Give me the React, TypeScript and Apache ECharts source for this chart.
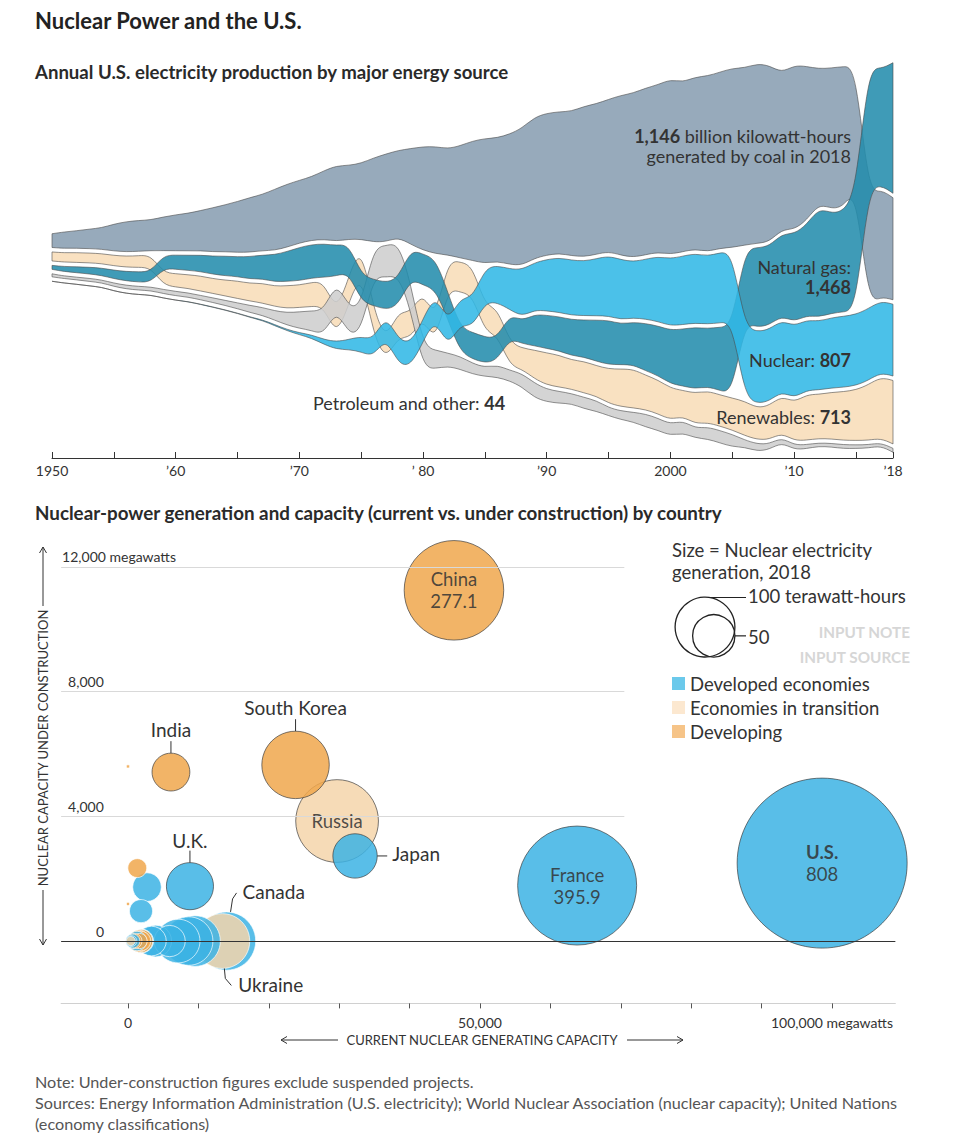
import React, { useEffect, useRef } from "react";
import * as echarts from "echarts";

const FONT = "Lato, 'Open Sans', sans-serif";

// ---------------- Top chart: U.S. electricity production (billion kWh) ----------------
const years: number[] = [];
for (let y = 1950; y <= 2018; y++) years.push(y);

const sourceNames = ["Coal", "Natural gas", "Nuclear", "Renewables", "Petroleum and other"];
const coal = [
  154.5, 185.2, 195.4, 218.8, 239.1, 301.4, 338.5, 346.4, 344.4, 378.4,
  403.1, 421.9, 450.2, 493.9, 526.2, 570.9, 613.5, 630.5, 684.9, 706.0,
  704.4, 713.1, 771.1, 847.7, 828.4, 852.8, 944.4, 985.2, 975.7, 1075.0,
  1161.6, 1203.2, 1192.0, 1259.4, 1341.7, 1402.1, 1385.8, 1463.8, 1540.7, 1583.8,
  1594.0, 1590.6, 1621.2, 1690.1, 1690.7, 1709.4, 1795.2, 1845.0, 1873.5, 1881.1,
  1966.3, 1904.0, 1933.1, 1973.7, 1978.3, 2012.9, 1990.5, 2016.5, 1985.8, 1755.9,
  1847.3, 1733.4, 1514.0, 1581.1, 1581.7, 1352.4, 1239.1, 1205.8, 1146.0,
];
const naturalGas = [
  44.6, 56.6, 66.4, 74.8, 83.0, 95.3, 104.3, 114.3, 118.1, 148.2,
  158.0, 169.3, 184.3, 201.6, 220.1, 221.6, 251.2, 264.8, 304.4, 333.3,
  372.9, 374.0, 375.7, 340.9, 320.1, 299.8, 294.6, 305.5, 305.4, 329.5,
  346.2, 345.8, 305.3, 274.1, 297.4, 291.9, 248.5, 272.6, 252.8, 352.6,
  372.8, 381.6, 404.1, 414.9, 460.2, 496.1, 455.1, 479.4, 531.3, 556.4,
  601.0, 639.1, 691.0, 649.9, 710.1, 761.0, 816.4, 896.6, 883.0, 921.0,
  987.7, 1013.7, 1225.9, 1124.8, 1126.6, 1333.5, 1378.3, 1296.4, 1468.0,
];
const nuclear = [
  0, 0, 0, 0, 0, 0, 0, 0, 0.2, 0.2,
  0.5, 1.7, 2.3, 3.2, 3.3, 3.7, 5.5, 7.7, 12.5, 13.9,
  21.8, 38.1, 54.1, 83.5, 114.0, 172.5, 191.1, 250.9, 276.4, 255.2,
  251.1, 272.7, 282.8, 293.7, 327.6, 383.7, 414.0, 455.3, 527.0, 529.4,
  576.9, 612.6, 618.8, 610.3, 640.4, 673.4, 674.7, 628.6, 673.7, 728.3,
  753.9, 768.8, 780.1, 763.7, 788.5, 782.0, 787.2, 806.4, 806.2, 798.9,
  807.0, 790.2, 769.3, 789.0, 797.2, 797.2, 805.7, 805.0, 807.1,
];
const renewables = [
  100.9, 104.4, 109.7, 109.6, 112.0, 116.2, 122.0, 130.5, 140.3, 138.6,
  149.4, 152.6, 168.7, 166.1, 177.1, 196.0, 197.3, 222.5, 225.4, 253.8,
  250.9, 269.9, 275.8, 275.4, 305.7, 303.2, 287.7, 224.7, 284.8, 284.3,
  284.7, 266.4, 316.1, 338.8, 331.4, 293.9, 304.3, 261.9, 235.4, 320.0,
  357.2, 357.8, 326.0, 354.3, 341.5, 384.8, 420.6, 433.6, 385.8, 380.5,
  356.5, 288.6, 343.6, 355.3, 351.5, 357.7, 385.8, 352.7, 380.9, 417.7,
  427.4, 513.0, 494.6, 522.5, 546.0, 567.5, 623.7, 687.0, 713.0,
];
const petroleumOther = [
  33.7, 29.0, 29.6, 34.5, 31.5, 37.1, 40.4, 41.0, 42.0, 46.0,
  48.0, 48.0, 48.5, 52.0, 57.0, 64.8, 78.9, 89.3, 104.3, 138.3,
  184.2, 220.2, 274.3, 314.3, 300.9, 289.1, 320.0, 358.2, 365.1, 303.5,
  246.0, 206.4, 146.8, 144.5, 119.8, 100.2, 136.6, 118.5, 148.9, 164.5,
  140, 133, 113, 127, 120, 90, 97, 108, 145, 135,
  128, 138, 108, 135, 137, 138, 81, 82, 62, 55,
  51, 45, 37, 41, 43, 40, 37, 35, 44,
];
const sourceValues = [coal, naturalGas, nuclear, renewables, petroleumOther];
const sourceFills = [
  "rgba(136,157,177,0.87)",
  "rgba(34,140,172,0.87)",
  "rgba(48,184,230,0.87)",
  "rgba(248,220,184,0.87)",
  "rgba(206,206,206,0.87)",
];
const drawOrder = [0, 3, 4, 1, 2];

const tickYears = [1950, 1955, 1960, 1965, 1970, 1975, 1980, 1985, 1990, 1995, 2000, 2005, 2010, 2015, 2018];
const labelYears = [1950, 1960, 1970, 1980, 1990, 2000, 2010, 2018];
const yearLabels = ["1950", "\u201960", "\u201970", "\u2019 80", "\u201990", "2000", "\u201910", "\u201918"];

const BAND_GAP = 50; // billion kWh of white space between ribbons

// ---------------- Bottom chart: nuclear power by country ----------------
const countries = [
  "U.S.", "France", "China", "Russia", "South Korea", "Canada", "Ukraine", "Germany",
  "Sweden", "U.K.", "Japan", "Spain", "India", "Czech Republic", "Belgium", "Switzerland",
  "Finland", "Bulgaria", "Hungary", "Slovakia", "Brazil", "Mexico", "South Africa", "Romania",
  "Pakistan", "Argentina", "Iran", "Slovenia", "Netherlands", "Armenia", "U.A.E.", "Turkey",
];
const capacityMW = [
  98600, 63800, 46300, 29700, 23800, 14000, 13400, 9515,
  8613, 8800, 32250, 7121, 6100, 3932, 5918, 3333,
  2700, 1966, 1902, 1850, 1884, 1552, 1860, 1300,
  1320, 1641, 915, 688, 482, 400, 0, 0,
];
const underConstructionMW = [
  2500, 1780, 11250, 3850, 5650, 0, 0, 0,
  0, 1760, 2730, 0, 5420, 0, 0, 0,
  1730, 0, 0, 960, 0, 0, 0, 0,
  2340, 0, 0, 0, 0, 0, 5600, 1190,
];
const generationTWh = [
  808, 395.9, 277.1, 191.3, 127.1, 95.0, 84.0, 71.9,
  65.9, 62.0, 55.0, 53.4, 40.0, 28.3, 27.3, 24.5,
  23.0, 15.4, 14.9, 15.0, 14.8, 13.2, 10.6, 10.5,
  10.0, 6.5, 6.3, 5.5, 3.3, 2.3, 0.3, 0.3,
];
const economy = [
  "D", "D", "G", "T", "G", "D", "T", "D",
  "D", "D", "D", "D", "G", "D", "D", "D",
  "D", "D", "D", "D", "G", "G", "G", "D",
  "G", "G", "G", "D", "D", "T", "G", "G",
];
const economyNames: Record<string, string> = { D: "Developed economies", T: "Economies in transition", G: "Developing" };
const economyLegendColors: Record<string, string> = { D: "#46bbe6", T: "#fbe2c4", G: "#f4b56a" };
const economyFills: Record<string, string> = { D: "#3cb3e4", T: "#f5d5aa", G: "#f0a74c" };
const outlined = ["U.S.", "France", "China", "Russia", "South Korea", "Japan", "India", "U.K."];
const insideLabels: Record<string, string> = {
  "U.S.": "{b|U.S.}\n{r|808}",
  France: "{r|France}\n{r|395.9}",
  China: "{r|China}\n{r|277.1}",
  Russia: "{r|Russia}",
};
const capTicks = [0, 10000, 20000, 30000, 40000, 50000, 60000, 70000, 80000, 90000, 100000];
const capLabelValues = [0, 50000, 100000];
const capLabels = ["0", "50,000", "100,000 megawatts"];
const ucLabelValues = [0, 4000, 8000, 12000];
const ucLabels = ["{z|0}", "{b|4,000}", "{b|8,000}", "{a|12,000 megawatts}"];
const ucGridValues = [4000, 8000, 12000];
const SIZE_K = 2.99; // px of radius per sqrt(TWh)

// ---------------- helpers ----------------
function computeBands(): number[][][] {
  const out: number[][][] = [];
  for (let i = 0; i < years.length; i++) {
    const vals = sourceValues.map((a) => a[i]);
    const order = vals.map((_, k) => k).sort((a, b) => vals[b] - vals[a]);
    const total = vals.reduce((s, v) => s + v, 0) + BAND_GAP * (vals.length - 1);
    let y = total / 2;
    const row: number[][] = [];
    for (const k of order) {
      row[k] = [y - vals[k], y];
      y -= vals[k] + BAND_GAP;
    }
    out.push(row);
  }
  return out;
}

const f = (v: number) => (Math.round(v * 100) / 100).toString();

// uniform cubic B-spline through the knots (same construction as d3.curveBasis)
function basis(p: number[][], start: string): string {
  const n = p.length;
  let d = `${start}${f(p[0][0])},${f(p[0][1])}`;
  d += `L${f((5 * p[0][0] + p[1][0]) / 6)},${f((5 * p[0][1] + p[1][1]) / 6)}`;
  const seg = (a: number[], b: number[], c: number[]) =>
    `C${f((2 * a[0] + b[0]) / 3)},${f((2 * a[1] + b[1]) / 3)} ${f((a[0] + 2 * b[0]) / 3)},${f((a[1] + 2 * b[1]) / 3)} ${f(
      (a[0] + 4 * b[0] + c[0]) / 6
    )},${f((a[1] + 4 * b[1] + c[1]) / 6)}`;
  for (let i = 2; i < n; i++) d += seg(p[i - 2], p[i - 1], p[i]);
  d += seg(p[n - 2], p[n - 1], p[n - 1]);
  d += `L${f(p[n - 1][0])},${f(p[n - 1][1])}`;
  return d;
}

function ribbonPath(top: number[][], bot: number[][]): string {
  return basis(top, "M") + basis(bot.slice().reverse(), "L") + "Z";
}

function txt(x: number, y: number, text: string, o: any = {}) {
  const align = o.align || "left";
  return {
    type: "text",
    x,
    y,
    rotation: o.rotation || 0,
    silent: true,
    z: 100,
    style: {
      text,
      fill: o.color || "#333",
      fontSize: o.size || 18,
      fontFamily: FONT,
      fontWeight: o.weight || "normal",
      lineHeight: o.lineHeight,
      textAlign: align,
      align,
      textVerticalAlign: "middle",
      verticalAlign: "middle",
      rich: o.rich,
    },
  };
}
function ln(x1: number, y1: number, x2: number, y2: number, color = "#333", w = 1) {
  return { type: "line", silent: true, z: 100, shape: { x1, y1, x2, y2 }, style: { stroke: color, lineWidth: w } };
}
function pl(points: number[][], color = "#333", w = 1) {
  return { type: "polyline", silent: true, z: 100, shape: { points }, style: { stroke: color, lineWidth: w, fill: null } };
}

const boldRich = (size: number, lh?: number) => ({
  b: { fontSize: size, fontFamily: FONT, fontWeight: "bold", fill: "#333", lineHeight: lh },
});

function buildOption() {
  const bands = computeBands();
  const order = countries.map((_, i) => i).sort((a, b) => generationTWh[b] - generationTWh[a]);
  const scatterData = order.map((i) => {
    const name = countries[i];
    const lab = insideLabels[name];
    return {
      name,
      value: [capacityMW[i], underConstructionMW[i], generationTWh[i]],
      itemStyle: {
        color: economyFills[economy[i]],
        borderColor: outlined.includes(name) ? "#3a3a3a" : "#ffffff",
        borderWidth: 0.8,
        opacity: 0.85,
      },
      label: lab
        ? {
            show: true,
            position: "inside",
            formatter: lab,
            rich: {
              r: { fontSize: 18.5, fontFamily: FONT, color: "#333", lineHeight: 22 },
              b: { fontSize: 18.5, fontFamily: FONT, color: "#333", fontWeight: "bold", lineHeight: 22 },
            },
          }
        : { show: false },
    };
  });

  const gridLines: any[] = ucGridValues.map((v) => [
    { coord: [-9500, v], lineStyle: { color: "#d9d9d9", width: 1, type: "solid" } },
    { coord: [70500, v] },
  ]);
  gridLines.push([
    { coord: [-9500, 0], lineStyle: { color: "#333", width: 1, type: "solid" } },
    { coord: [109000, 0] },
  ]);

  return {
    animation: false,
    textStyle: { fontFamily: FONT },
    grid: [
      { left: 52, top: 49, width: 841, height: 409 },
      { left: 61.12, top: 542, width: 834.24, height: 461.4 },
    ],
    legend: {
      left: 672,
      top: 674,
      padding: 0,
      orient: "vertical",
      icon: "rect",
      itemWidth: 13,
      itemHeight: 13,
      itemGap: 5,
      selectedMode: false,
      textStyle: { fontSize: 18.5, color: "#333", fontFamily: FONT, lineHeight: 17, padding: [0, 0, 0, 0] },
      data: ["D", "T", "G"].map((k) => economyNames[k]),
    },
    xAxis: [
      {
        gridIndex: 0,
        type: "value",
        min: 1950,
        max: 2018,
        splitLine: { show: false },
        axisLine: { onZero: false, lineStyle: { color: "#333", width: 1 } },
        axisTick: { inside: true, length: 6, customValues: tickYears, lineStyle: { color: "#333" } },
        axisLabel: {
          customValues: labelYears,
          margin: 5,
          fontSize: 14,
          color: "#333",
          fontFamily: FONT,
          formatter: (v: number) => yearLabels[labelYears.indexOf(v)] ?? "",
        },
      },
      {
        gridIndex: 1,
        type: "value",
        min: -9500,
        max: 109000,
        splitLine: { show: false },
        axisLine: { onZero: false, lineStyle: { color: "#d0d0d0", width: 1 } },
        axisTick: { length: 5, customValues: capTicks, lineStyle: { color: "#555" } },
        axisLabel: {
          customValues: capLabelValues,
          margin: 12,
          fontSize: 14,
          color: "#333",
          fontFamily: FONT,
          formatter: (v: number) => capLabels[capLabelValues.indexOf(v)] ?? "",
        },
      },
    ],
    yAxis: [
      { gridIndex: 0, type: "value", min: -2253, max: 2343, show: false },
      {
        gridIndex: 1,
        type: "value",
        min: -2000,
        max: 12800,
        splitLine: { show: false },
        axisLine: { show: false },
        axisTick: { show: false },
        axisLabel: {
          inside: true,
          customValues: ucLabelValues,
          margin: 1,
          verticalAlign: "bottom",
          color: "#333",
          formatter: (v: number) => ucLabels[ucLabelValues.indexOf(v)] ?? "",
          rich: {
            a: { fontSize: 14, fontFamily: FONT, color: "#333", padding: [0, 0, 3, 0] },
            b: { fontSize: 14, fontFamily: FONT, color: "#333", padding: [0, 0, 3, 6] },
            z: { fontSize: 14, fontFamily: FONT, color: "#333", padding: [0, 0, 3, 34] },
          },
        },
      },
    ],
    series: [
      {
        type: "custom",
        name: "bands",
        xAxisIndex: 0,
        yAxisIndex: 0,
        silent: true,
        data: drawOrder.map((s) => [1984, 0, s]),
        encode: { x: 0, y: 1 },
        renderItem: (params: any, api: any) => {
          const s = drawOrder[params.dataIndex];
          const top: number[][] = [];
          const bot: number[][] = [];
          for (let i = 0; i < years.length; i++) {
            const [lo, hi] = bands[i][s];
            top.push(api.coord([years[i], hi]));
            bot.push(api.coord([years[i], lo]));
          }
          return {
            type: "path",
            shape: { pathData: ribbonPath(top, bot) },
            style: { fill: sourceFills[s], stroke: "#4a4a4a", lineWidth: 0.6 },
          };
        },
      },
      {
        type: "scatter",
        name: "gridlines",
        xAxisIndex: 1,
        yAxisIndex: 1,
        data: [],
        z: 1,
        silent: true,
        markLine: { silent: true, symbol: ["none", "none"], label: { show: false }, data: gridLines },
      },
      {
        type: "scatter",
        name: "countries",
        xAxisIndex: 1,
        yAxisIndex: 1,
        z: 3,
        clip: false,
        silent: true,
        symbol: "circle",
        symbolSize: (v: number[]) => 2 * SIZE_K * Math.sqrt(v[2]),
        data: scatterData,
      },
      ...["D", "T", "G"].map((k) => ({
        type: "scatter",
        name: economyNames[k],
        xAxisIndex: 1,
        yAxisIndex: 1,
        data: [],
        itemStyle: { color: economyLegendColors[k] },
      })),
    ],
  };
}

function buildGraphics(chart: any) {
  const px = (i: number) =>
    chart.convertToPixel({ xAxisIndex: 1, yAxisIndex: 1 }, [capacityMW[i], underConstructionMW[i]]) as number[];
  const rad = (i: number) => SIZE_K * Math.sqrt(generationTWh[i]);
  const idx = (n: string) => countries.indexOf(n);
  const els: any[] = [];

  // titles
  els.push(txt(35, 20, "Nuclear Power and the U.S.", { size: 22, weight: "bold", color: "#222" }));
  els.push(txt(35, 72, "Annual U.S. electricity production by major energy source", { size: 18.6, weight: "bold", color: "#2a2a2a" }));
  els.push(
    txt(35, 512, "Nuclear-power generation and capacity (current vs. under construction) by country", {
      size: 18.8,
      weight: "bold",
      color: "#2a2a2a",
    })
  );

  // top chart annotations
  els.push(
    txt(851, 146, "{b|1,146} billion kilowatt-hours\ngenerated by coal in 2018", {
      align: "right",
      lineHeight: 20,
      rich: boldRich(18, 20),
    })
  );
  els.push(txt(851, 276.5, "Natural gas:\n{b|1,468}", { align: "right", lineHeight: 20, rich: boldRich(18, 20) }));
  els.push(txt(851, 360, "Nuclear: {b|807}", { align: "right", rich: boldRich(18) }));
  els.push(txt(851, 417, "Renewables: {b|713}", { align: "right", rich: boldRich(18) }));
  els.push(txt(313, 403, "Petroleum and other: {b|44}", { rich: boldRich(18) }));

  // size legend
  els.push(txt(672, 560.5, "Size = Nuclear electricity\ngeneration, 2018", { size: 18.5, lineHeight: 22 }));
  const r100 = SIZE_K * Math.sqrt(100);
  const r50 = SIZE_K * Math.sqrt(50);
  const base = 657;
  const cxBig = 705;
  const cxSmall = cxBig + r100 - r50;
  els.push({ type: "circle", silent: true, z: 100, shape: { cx: cxBig, cy: base - r100, r: r100 }, style: { fill: "none", stroke: "#222", lineWidth: 1.3 } });
  els.push({ type: "circle", silent: true, z: 100, shape: { cx: cxSmall, cy: base - r50, r: r50 }, style: { fill: "none", stroke: "#222", lineWidth: 1.3 } });
  els.push(ln(cxBig + 4, base - 2 * r100 + 0.3, 746, base - 2 * r100 + 0.3, "#222", 1.2));
  els.push(txt(748, base - 2 * r100 - 1, "100 terawatt-hours", { size: 18.5 }));
  els.push(ln(cxSmall + r50, base - r50, 746, base - r50, "#222", 1.2));
  els.push(txt(748, base - r50 + 1, "50", { size: 18.5 }));
  els.push(txt(910, 632, "INPUT NOTE", { align: "right", size: 15.3, weight: "bold", color: "#d6d6d6" }));
  els.push(txt(910, 657, "INPUT SOURCE", { align: "right", size: 15.3, weight: "bold", color: "#d6d6d6" }));

  // external country labels with leader lines
  const above = (name: string, gapText = 23) => {
    const i = idx(name);
    const [cx, cy] = px(i);
    const r = rad(i);
    els.push(ln(cx, cy - r - 12, cx, cy - r, "#333", 1));
    els.push(txt(cx, cy - r - gapText, name, { align: "center", size: 19 }));
  };
  above("India", 24);
  above("South Korea", 24);
  above("U.K.", 22);
  {
    const i = idx("Japan");
    const [cx, cy] = px(i);
    const r = rad(i);
    els.push(ln(cx + r, cy, cx + r + 10, cy, "#333", 1));
    els.push(txt(cx + r + 15, cy - 2, "Japan", { size: 19 }));
  }
  {
    const i = idx("Canada");
    const [cx, cy] = px(i);
    const r = rad(i);
    els.push(pl([[cx + 4, cy - r], [cx + 6, cy - r - 13], [cx + 10, cy - r - 19]]));
    els.push(txt(cx + 16, cy - r - 20, "Canada", { size: 19 }));
  }
  {
    const i = idx("Ukraine");
    const [cx, cy] = px(i);
    const r = rad(i);
    els.push(pl([[cx + 2, cy + r], [cx + 3, cy + r + 10], [cx + 9, cy + r + 17]]));
    els.push(txt(cx + 16, cy + r + 16, "Ukraine", { size: 19 }));
  }

  // axis titles with arrows
  els.push(txt(43, 748, "NUCLEAR CAPACITY UNDER CONSTRUCTION", { align: "center", size: 13, rotation: Math.PI / 2 }));
  els.push(ln(43, 547, 43, 606));
  els.push(pl([[39.5, 553], [43, 547], [46.5, 553]]));
  els.push(ln(43, 890, 43, 945));
  els.push(pl([[39.5, 939], [43, 945], [46.5, 939]]));
  els.push(txt(482, 1040, "CURRENT NUCLEAR GENERATING CAPACITY", { align: "center", size: 13 }));
  els.push(ln(281, 1040, 338, 1040));
  els.push(pl([[287, 1036.5], [281, 1040], [287, 1043.5]]));
  els.push(ln(627, 1040, 683, 1040));
  els.push(pl([[677, 1036.5], [683, 1040], [677, 1043.5]]));

  // footnotes
  els.push(txt(35, 1081, "Note: Under-construction figures exclude suspended projects.", { size: 16.2, color: "#555" }));
  els.push(
    txt(
      35,
      1102,
      "Sources: Energy Information Administration (U.S. electricity); World Nuclear Association (nuclear capacity); United Nations",
      { size: 16.2, color: "#555" }
    )
  );
  els.push(txt(35, 1123, "(economy classifications)", { size: 16.2, color: "#555" }));
  return els;
}

export default function App() {
  const ref = useRef<HTMLDivElement>(null);
  useEffect(() => {
    document.body.style.margin = "0";
    const chart = echarts.init(ref.current!, null, { renderer: "svg" });
    chart.setOption(buildOption() as any);
    chart.setOption({ graphic: { elements: buildGraphics(chart) } } as any);
    return () => chart.dispose();
  }, []);
  return <div ref={ref} style={{ width: 957, height: 1144 }} />;
}
